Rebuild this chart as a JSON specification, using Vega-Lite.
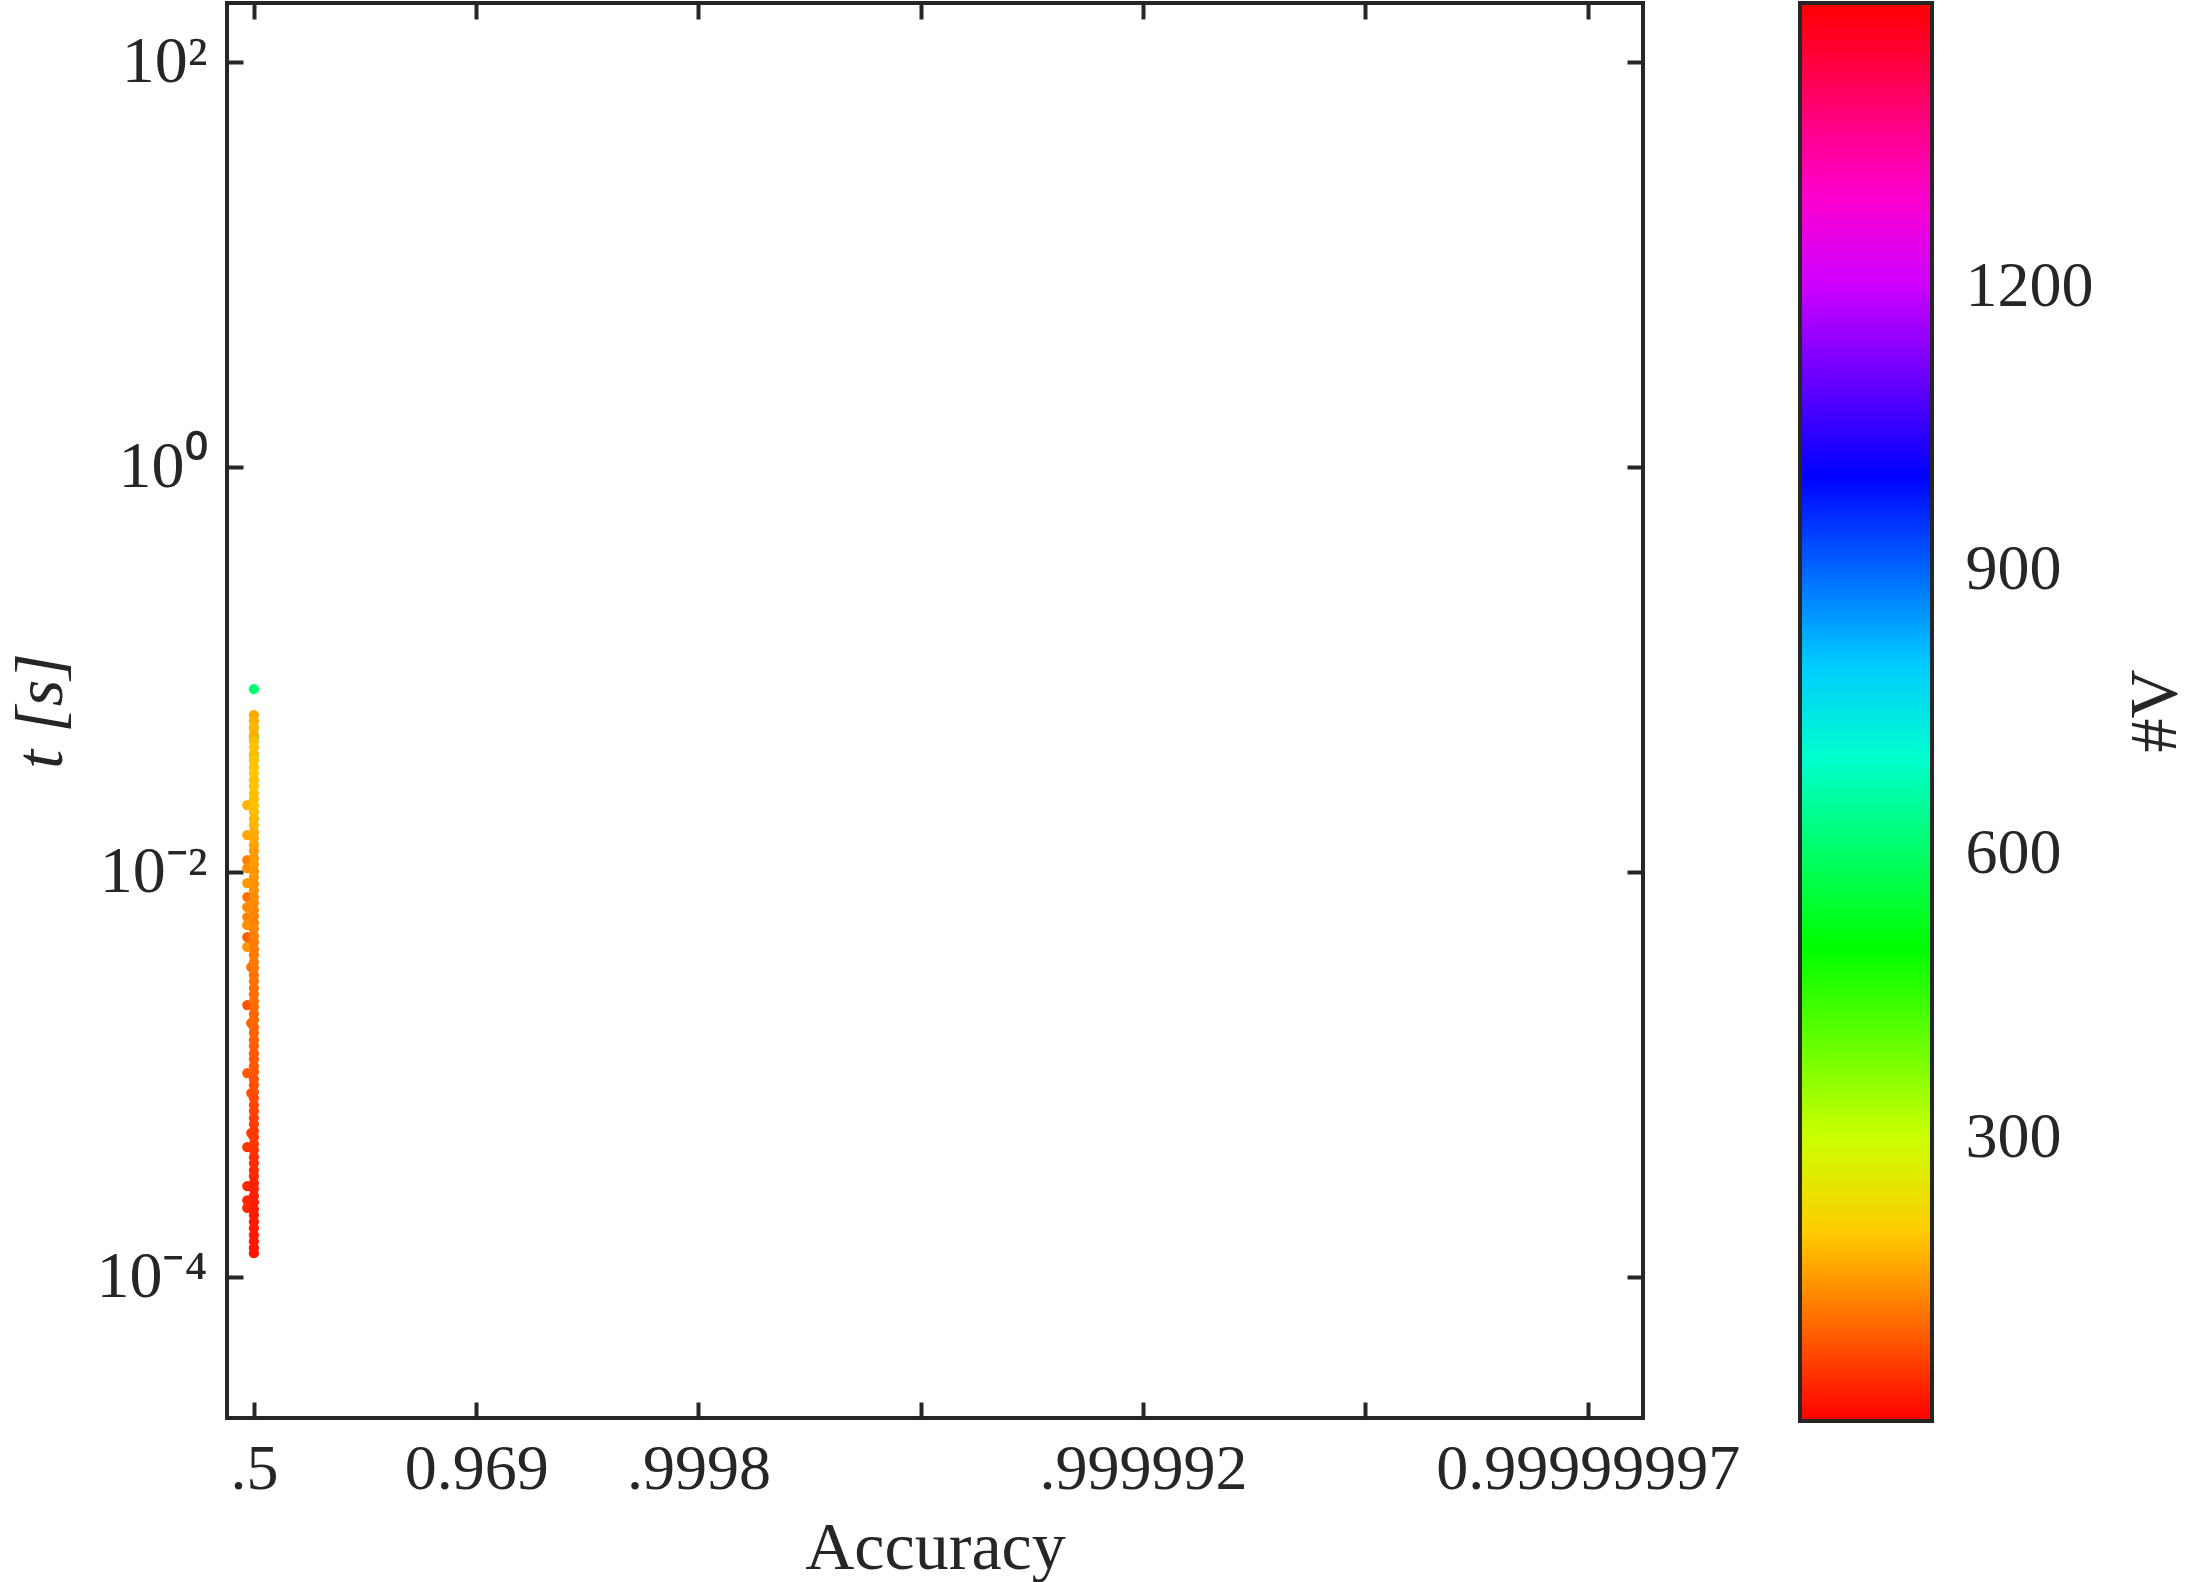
{
  "$schema": "https://vega.github.io/schema/vega-lite/v6.json",
  "width": 1416,
  "height": 1415,
  "autosize": {"type": "none"},
  "padding": {"left": 227, "top": 3, "right": 547, "bottom": 164},
  "background": "white",
  "config": {
    "view": {"stroke": "#262626", "strokeWidth": 4},
    "font": "Liberation Serif",
    "axis": {
      "grid": false, "domain": false,
      "tickColor": "#262626", "tickWidth": 4, "tickSize": -16,
      "labelColor": "#262626", "labelFont": "Liberation Serif", "labelFontSize": 64, "labelLimit": 0,
      "titleFont": "Liberation Serif", "titleFontSize": 68, "titleFontWeight": "normal", "titleColor": "#262626",
      "labelOverlap": false, "labelFlush": false
    }
  },
  "data": {"values": [
    {"x": 0, "t": 0.0514, "V": 650}, {"x": 0, "t": 0.0463, "V": 660}, {"x": 0, "t": 0.0377, "V": 640},
    {"x": -0.03, "t": 0.0214, "V": 175}, {"x": -0.03, "t": 0.01521, "V": 165}, {"x": -0.03, "t": 0.01145, "V": 125},
    {"x": -0.03, "t": 0.01045, "V": 140}, {"x": -0.03, "t": 0.00881, "V": 150}, {"x": -0.03, "t": 0.00752, "V": 110},
    {"x": -0.03, "t": 0.00671, "V": 135}, {"x": -0.03, "t": 0.00599, "V": 128}, {"x": -0.03, "t": 0.00546, "V": 140},
    {"x": -0.03, "t": 0.00477, "V": 94}, {"x": -0.03, "t": 0.00426, "V": 145}, {"x": -0.03, "t": 0.0022, "V": 80},
    {"x": -0.03, "t": 0.001015, "V": 85}, {"x": -0.03, "t": 0.000438, "V": 50}, {"x": -0.03, "t": 0.000281, "V": 42},
    {"x": -0.03, "t": 0.000239, "V": 40}, {"x": -0.03, "t": 0.000219, "V": 40},
    {"x": -0.012, "t": 0.00339, "V": 110}, {"x": -0.012, "t": 0.00179, "V": 95}, {"x": -0.012, "t": 0.000809, "V": 80}, {"x": -0.012, "t": 0.000513, "V": 60},
    {"x": 0, "t": 0.0595, "V": 165}, {"x": 0, "t": 0.0556, "V": 172}, {"x": 0, "t": 0.0514, "V": 178}, {"x": 0, "t": 0.0474, "V": 172},
    {"x": 0, "t": 0.0443, "V": 185}, {"x": 0, "t": 0.0414, "V": 190}, {"x": 0, "t": 0.0382, "V": 182}, {"x": 0, "t": 0.0357, "V": 192},
    {"x": 0, "t": 0.033, "V": 190}, {"x": 0, "t": 0.0308, "V": 195}, {"x": 0, "t": 0.0284, "V": 188}, {"x": 0, "t": 0.0266, "V": 192},
    {"x": 0, "t": 0.0245, "V": 190}, {"x": 0, "t": 0.0229, "V": 186}, {"x": 0, "t": 0.0212, "V": 190}, {"x": 0, "t": 0.0198, "V": 184},
    {"x": 0, "t": 0.0183, "V": 178}, {"x": 0, "t": 0.017, "V": 176}, {"x": 0, "t": 0.0157, "V": 170}, {"x": 0, "t": 0.0147, "V": 165},
    {"x": 0, "t": 0.0136, "V": 160}, {"x": 0, "t": 0.0127, "V": 155}, {"x": 0, "t": 0.0117, "V": 150}, {"x": 0, "t": 0.0109, "V": 152},
    {"x": 0, "t": 0.0101, "V": 145}, {"x": 0, "t": 0.00944, "V": 148}, {"x": 0, "t": 0.00872, "V": 140}, {"x": 0, "t": 0.00814, "V": 142},
    {"x": 0, "t": 0.00752, "V": 135}, {"x": 0, "t": 0.00702, "V": 138}, {"x": 0, "t": 0.00648, "V": 132}, {"x": 0, "t": 0.00605, "V": 130},
    {"x": 0, "t": 0.00559, "V": 128}, {"x": 0, "t": 0.00522, "V": 131}, {"x": 0, "t": 0.00482, "V": 125}, {"x": 0, "t": 0.0045, "V": 122},
    {"x": 0, "t": 0.00416, "V": 120}, {"x": 0, "t": 0.00389, "V": 119}, {"x": 0, "t": 0.00359, "V": 118}, {"x": 0, "t": 0.00335, "V": 116},
    {"x": 0, "t": 0.0031, "V": 113}, {"x": 0, "t": 0.00289, "V": 112}, {"x": 0, "t": 0.00267, "V": 110}, {"x": 0, "t": 0.00249, "V": 108},
    {"x": 0, "t": 0.0023, "V": 106}, {"x": 0, "t": 0.00215, "V": 105}, {"x": 0, "t": 0.00199, "V": 102}, {"x": 0, "t": 0.00186, "V": 101},
    {"x": 0, "t": 0.00171, "V": 99}, {"x": 0, "t": 0.0016, "V": 97}, {"x": 0, "t": 0.00148, "V": 95}, {"x": 0, "t": 0.00138, "V": 92},
    {"x": 0, "t": 0.00127, "V": 90}, {"x": 0, "t": 0.00119, "V": 88}, {"x": 0, "t": 0.0011, "V": 86}, {"x": 0, "t": 0.00103, "V": 84},
    {"x": 0, "t": 0.000949, "V": 80}, {"x": 0, "t": 0.000886, "V": 78}, {"x": 0, "t": 0.000818, "V": 76}, {"x": 0, "t": 0.000764, "V": 73},
    {"x": 0, "t": 0.000706, "V": 70}, {"x": 0, "t": 0.000659, "V": 67}, {"x": 0, "t": 0.000609, "V": 63}, {"x": 0, "t": 0.000569, "V": 61},
    {"x": 0, "t": 0.000525, "V": 58}, {"x": 0, "t": 0.00049, "V": 56}, {"x": 0, "t": 0.000453, "V": 53}, {"x": 0, "t": 0.000423, "V": 50},
    {"x": 0, "t": 0.000391, "V": 47}, {"x": 0, "t": 0.000365, "V": 44}, {"x": 0, "t": 0.000337, "V": 41}, {"x": 0, "t": 0.000315, "V": 38},
    {"x": 0, "t": 0.000291, "V": 35}, {"x": 0, "t": 0.000272, "V": 33}, {"x": 0, "t": 0.000251, "V": 31}, {"x": 0, "t": 0.000234, "V": 30},
    {"x": 0, "t": 0.000216, "V": 28}, {"x": 0, "t": 0.000202, "V": 27}, {"x": 0, "t": 0.000187, "V": 26}, {"x": 0, "t": 0.000174, "V": 25},
    {"x": 0, "t": 0.000161, "V": 24}, {"x": 0, "t": 0.00015, "V": 23}, {"x": 0, "t": 0.000139, "V": 22}, {"x": 0, "t": 0.000131, "V": 22},
    {"x": 0, "t": 0.08, "V": 610}
  ]},
  "layer": [
    {
      "mark": {"type": "circle", "size": 105, "opacity": 1},
      "encoding": {
        "x": {"field": "x", "type": "quantitative",
          "scale": {"domain": [-0.121, 6.249], "nice": false, "zero": false},
          "axis": {"orient": "bottom", "values": [0, 1, 2, 3, 4, 5, 6],
            "labelExpr": "['.5','0.969','.9998','','.999992','','0.99999997'][datum.value]",
            "title": "Accuracy", "labelPadding": 35, "titlePadding": 13}},
        "y": {"field": "t", "type": "quantitative",
          "scale": {"type": "log", "domain": [2.01e-5, 195.6], "nice": false},
          "axis": {"orient": "left", "values": [0.0001, 0.01, 1, 100],
            "labelExpr": "datum.value > 10 ? '10²' : datum.value > 0.1 ? '10⁰' : datum.value > 0.001 ? '10⁻²' : '10⁻⁴'",
            "labelFontSize": 66,
            "title": "t [s]", "titleFontStyle": "italic", "labelPadding": 36, "titlePadding": 20}},
        "color": {"field": "V", "type": "quantitative",
          "scale": {"domain": [0, 250, 500, 750, 1000, 1250, 1500],
            "range": ["#ff0000", "#ffff00", "#00ff00", "#00ffff", "#0000ff", "#ff00ff", "#ff0000"],
            "interpolate": "rgb"},
          "legend": {"orient": "none", "legendX": 1573, "legendY": 0, "direction": "vertical",
            "gradientLength": 1418, "gradientThickness": 132,
            "gradientStrokeColor": "#262626", "gradientStrokeWidth": 4,
            "title": null, "labelOpacity": 0, "padding": 0}}
      }
    },
    {
      "mark": {"type": "circle", "size": 64, "opacity": 0},
      "encoding": {
        "x": {"field": "x", "type": "quantitative",
          "axis": {"orient": "top", "values": [0, 1, 2, 3, 4, 5, 6], "labels": false, "title": null}},
        "y": {"field": "t", "type": "quantitative",
          "scale": {"type": "log", "domain": [2.01e-5, 195.6], "nice": false},
          "axis": {"orient": "right", "values": [0.0001, 0.01, 1, 100], "labels": false, "title": null}}
      }
    },
    {
      "mark": {"type": "circle", "size": 1, "opacity": 0},
      "encoding": {
        "y": {"field": "V", "type": "quantitative",
          "scale": {"domain": [4, 1499], "nice": false, "zero": false},
          "axis": {"orient": "right", "offset": 289, "values": [300, 600, 900, 1200], "format": "d",
            "tickSize": -15, "labelPadding": 48, "labelAlign": "left",
            "title": "#V", "titleAngle": -90, "titleBaseline": "top", "titlePadding": 28}}
      }
    }
  ],
  "resolve": {"scale": {"y": "independent"}, "axis": {"x": "independent", "y": "independent"}}
}
